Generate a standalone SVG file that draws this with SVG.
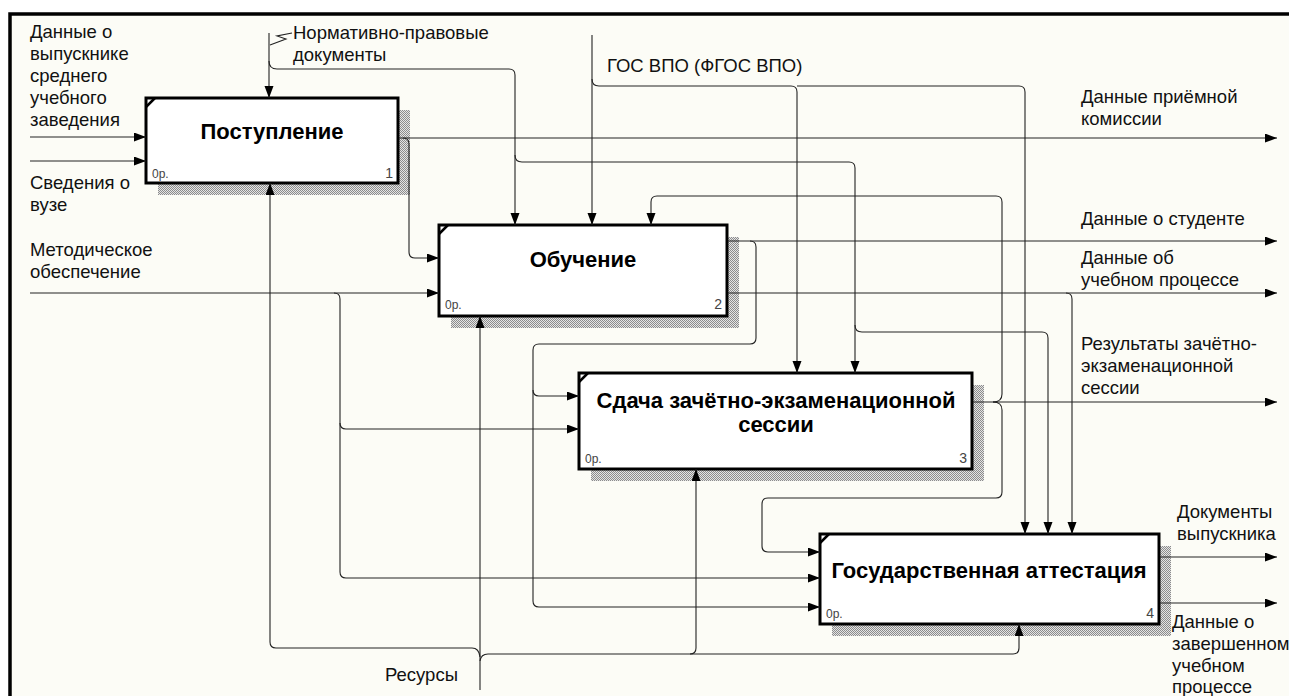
<svg xmlns="http://www.w3.org/2000/svg" width="1289" height="696" viewBox="0 0 1289 696">
<defs>
<pattern id="dither" width="2" height="2" patternUnits="userSpaceOnUse">
<rect width="2" height="2" fill="#e4e4e4"/>
<rect x="0" y="0" width="1" height="1" fill="#8c8c8c"/>
<rect x="1" y="1" width="1" height="1" fill="#8c8c8c"/>
</pattern>
<marker id="ah" markerUnits="userSpaceOnUse" markerWidth="13" markerHeight="10" refX="12" refY="4.5" orient="auto">
<path d="M0,0 L12,4.5 L0,9 z" fill="#000"/>
</marker>
<style>
.lbl{font-family:"Liberation Sans",Arial,sans-serif;font-size:18.5px;fill:#111}
.ttl{font-family:"Liberation Sans",Arial,sans-serif;font-size:22px;font-weight:bold;fill:#000;text-anchor:middle}
.op{font-family:"Liberation Sans",Arial,sans-serif;font-size:12px;fill:#444}
.num{font-family:"Liberation Sans",Arial,sans-serif;font-size:14px;fill:#444;text-anchor:end}
.box{fill:#fff;stroke:#000;stroke-width:3}
.shd{fill:url(#dither)}
.cn path{fill:none;stroke:#222;stroke-width:1.1}
.cn path.a{marker-end:url(#ah)}
.corner{stroke:#000;stroke-width:2.5}
.frame{stroke:#000;stroke-width:3.5;fill:none}
</style>
</defs>
<rect x="0" y="0" width="1289" height="696" fill="#fff"/>
<rect x="10" y="14" width="1279" height="682" fill="#fcfcf6"/>
<path class="frame" d="M10,696 V14 H1289"/>

<g id="node1">
<rect class="shd" x="158" y="110" width="252" height="85"/>
<rect class="box" x="146" y="98" width="252" height="85"/>
<line class="corner" x1="146" y1="107" x2="155" y2="98"/>
<text class="ttl" x="272" y="139">Поступление</text>
<text class="op" x="152" y="178">0р.</text>
<text class="num" x="393" y="178">1</text>
</g>

<g id="node2">
<rect class="shd" x="451" y="237" width="288" height="91"/>
<rect class="box" x="439" y="225" width="288" height="91"/>
<line class="corner" x1="439" y1="234" x2="448" y2="225"/>
<text class="ttl" x="583" y="267">Обучение</text>
<text class="op" x="445" y="309">0р.</text>
<text class="num" x="722" y="309">2</text>
</g>

<g id="node3">
<rect class="shd" x="591" y="385" width="393" height="96"/>
<rect class="box" x="579" y="373" width="393" height="96"/>
<line class="corner" x1="579" y1="382" x2="588" y2="373"/>
<text class="ttl" x="776" y="408">Сдача зачётно-экзаменационной</text>
<text class="ttl" x="776" y="432">сессии</text>
<text class="op" x="585" y="463">0р.</text>
<text class="num" x="967" y="463">3</text>
</g>

<g id="node4">
<rect class="shd" x="832" y="546" width="339" height="90"/>
<rect class="box" x="820" y="534" width="339" height="90"/>
<line class="corner" x1="820" y1="543" x2="829" y2="534"/>
<text class="ttl" x="989" y="578">Государственная аттестация</text>
<text class="op" x="826" y="618">0р.</text>
<text class="num" x="1154" y="618">4</text>
</g>

<g id="connectors" class="cn">
<path class="a" d="M30,137 H146"/>
<path class="a" d="M30,161 H146"/>
<path d="M292,33 L277,36 L286,39 L270,45"/>
<path class="a" d="M269,33 V98"/>
<path class="a" d="M269,61 Q269,69 277,69 H509 Q515,69 515,75 V225"/>
<path class="a" d="M515,155 Q515,162 522,162 H849 Q855,162 855,168 V373"/>
<path class="a" d="M855,325 Q855,332 862,332 H1042 Q1048,332 1048,338 V534"/>
<path class="a" d="M592,35 V225"/>
<path class="a" d="M592,79 Q592,86 599,86 H791 Q797,86 797,92 V373"/>
<path class="a" d="M797,86 H1019 Q1025,86 1025,92 V534"/>
<path class="a" d="M399,138 H1277"/>
<path class="a" d="M403,138 Q409,138 409,144 V252 Q409,258 415,258 H439"/>
<path class="a" d="M728,241 H1277"/>
<path class="a" d="M750,241 Q756,241 756,247 V338 Q756,344 750,344 H539 Q533,344 533,350 V601 Q533,607 539,607 H820"/>
<path class="a" d="M533,390 Q533,396 539,396 H579"/>
<path class="a" d="M728,293 H1277"/>
<path class="a" d="M1066,293 Q1072,293 1072,299 V534"/>
<path class="a" d="M30,293 H439"/>
<path class="a" d="M334,293 Q340,293 340,299 V572 Q340,578 346,578 H820"/>
<path class="a" d="M340,423 Q340,429 346,429 H579"/>
<path class="a" d="M973,402 H1277"/>
<path class="a" d="M993,402 Q1002,402 1002,394 V202 Q1002,196 996,196 H657 Q651,196 651,202 V225"/>
<path class="a" d="M993,402 Q1002,402 1002,410 V492 Q1002,498 996,498 H768 Q762,498 762,504 V546 Q762,552 768,552 H820"/>
<path class="a" d="M480,690 V316"/>
<path class="a" d="M480,657 Q479,648 472,648 H276 Q270,648 270,642 V183"/>
<path class="a" d="M480,661 Q481,654 488,654 H1013 Q1019,654 1019,648 V624"/>
<path class="a" d="M690,654 Q696,654 696,648 V469"/>
<path class="a" d="M1160,557 H1277"/>
<path class="a" d="M1160,603 H1277"/>
</g>

<g id="labels">
<text class="lbl" x="30" y="38">Данные о</text>
<text class="lbl" x="30" y="60">выпускнике</text>
<text class="lbl" x="30" y="82">среднего</text>
<text class="lbl" x="30" y="104">учебного</text>
<text class="lbl" x="30" y="126">заведения</text>
<text class="lbl" x="30" y="189">Сведения о</text>
<text class="lbl" x="30" y="211">вузе</text>
<text class="lbl" x="30" y="256">Методическое</text>
<text class="lbl" x="30" y="278">обеспечение</text>
<text class="lbl" x="293" y="39">Нормативно-правовые</text>
<text class="lbl" x="293" y="61">документы</text>
<text class="lbl" x="607" y="72">ГОС ВПО (ФГОС ВПО)</text>
<text class="lbl" x="1081" y="103">Данные приёмной</text>
<text class="lbl" x="1081" y="125">комиссии</text>
<text class="lbl" x="1081" y="225">Данные о студенте</text>
<text class="lbl" x="1081" y="264">Данные об</text>
<text class="lbl" x="1081" y="286">учебном процессе</text>
<text class="lbl" x="1081" y="350">Результаты зачётно-</text>
<text class="lbl" x="1081" y="372">экзаменационной</text>
<text class="lbl" x="1081" y="394">сессии</text>
<text class="lbl" x="1177" y="518">Документы</text>
<text class="lbl" x="1177" y="540">выпускника</text>
<text class="lbl" x="1172" y="628">Данные о</text>
<text class="lbl" x="1172" y="650">завершенном</text>
<text class="lbl" x="1172" y="672">учебном</text>
<text class="lbl" x="1172" y="693">процессе</text>
<text class="lbl" x="385" y="681">Ресурсы</text>
</g>
</svg>
